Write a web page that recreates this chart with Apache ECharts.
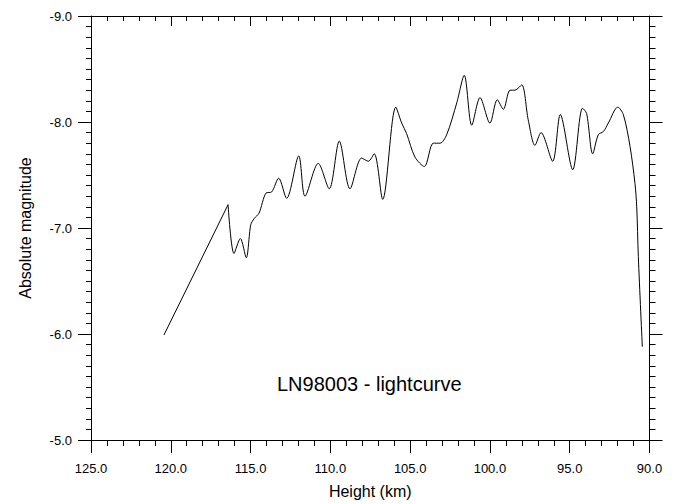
<!DOCTYPE html>
<html>
<head>
<meta charset="utf-8">
<script src="https://cdn.jsdelivr.net/npm/echarts@6/dist/echarts.min.js"></script>
<style>
html,body{margin:0;padding:0;background:#fff;}
#main{width:673px;height:504px;}
</style>
</head>
<body>
<div id="main"></div>
<script>
// Straight initial segment
var heightsA = [120.43, 116.41];
var magsA = [-5.99, -7.22];
// Smooth light curve
var heights = [116.41, 116.04, 115.64, 115.27, 114.99, 114.77, 114.47, 114.03, 113.68, 113.24,
  112.74, 111.98, 111.59, 110.76, 110.07, 109.44, 108.77, 108.04, 107.62, 107.25,
  106.72, 105.90, 105.53, 105.22, 104.70, 104.11, 103.55, 103.13, 102.71, 102.08,
  101.61, 101.14, 100.62, 100.00, 99.54, 99.16, 98.74, 98.43, 98.01, 97.60,
  97.18, 96.80, 96.07, 95.59, 94.81, 94.20, 93.94, 93.56, 93.21, 92.89,
  92.58, 91.99, 91.64, 91.22, 90.91, 90.80, 90.70, 90.45];
var mags = [-7.22, -6.76, -6.90, -6.72, -7.03, -7.09, -7.14, -7.33, -7.34, -7.47,
  -7.28, -7.68, -7.30, -7.61, -7.37, -7.82, -7.37, -7.66, -7.63, -7.70,
  -7.27, -8.14, -7.99, -7.89, -7.67, -7.58, -7.80, -7.80, -7.88, -8.18,
  -8.44, -7.97, -8.23, -7.99, -8.21, -8.12, -8.30, -8.30, -8.35, -8.02,
  -7.78, -7.90, -7.63, -8.07, -7.55, -8.13, -8.08, -7.70, -7.88, -7.91,
  -7.99, -8.14, -8.07, -7.77, -7.42, -7.20, -6.73, -5.88];
var xMin = 90, xMax = 125, xStep = 5;
var yMin = -9, yMax = -5, yStep = 1;
var titleText = 'LN98003 - lightcurve';
var xName = 'Height (km)';
var yName = 'Absolute magnitude';

function zip(a, b) { var r = []; for (var i = 0; i < a.length; i++) r.push([a[i], b[i]]); return r; }

var FONT = 'Arial, "Liberation Sans", sans-serif';
var lineStyle = { color: '#000', width: 1 };
var chart = echarts.init(document.getElementById('main'), null, { renderer: 'svg' });
chart.setOption({
  backgroundColor: '#fff',
  animation: false,
  grid: { left: 91, right: 23.5, top: 16, bottom: 64, containLabel: false },
  graphic: [{
    type: 'text', left: 277, top: 374,
    style: { text: titleText, font: '20px ' + FONT, fill: '#000' }
  }],
  xAxis: [{
    type: 'value', position: 'bottom', min: xMin, max: xMax, interval: xStep, inverse: true,
    name: xName, nameLocation: 'middle', nameGap: 43,
    nameTextStyle: { fontFamily: FONT, fontSize: 16, color: '#000' },
    axisLine: { show: true, onZero: false, lineStyle: lineStyle },
    axisTick: { show: true, inside: false, length: 13, lineStyle: lineStyle },
    minorTick: { show: true, splitNumber: 5, length: 6, lineStyle: lineStyle },
    axisLabel: { formatter: function (v) { return v.toFixed(1); }, fontFamily: FONT, fontSize: 13, color: '#000', margin: 22 },
    splitLine: { show: false }
  }, {
    type: 'value', position: 'top', min: xMin, max: xMax, interval: xStep, inverse: true,
    axisLine: { show: true, onZero: false, lineStyle: lineStyle },
    axisTick: { show: true, inside: true, length: 10, lineStyle: lineStyle },
    minorTick: { show: true, splitNumber: 5, length: 5, lineStyle: lineStyle },
    axisLabel: { show: false },
    splitLine: { show: false }
  }],
  yAxis: [{
    type: 'value', position: 'left', min: yMin, max: yMax, interval: yStep, inverse: true,
    name: yName, nameLocation: 'middle', nameGap: 58, nameRotate: 90,
    nameTextStyle: { fontFamily: FONT, fontSize: 16, color: '#000' },
    axisLine: { show: true, onZero: false, lineStyle: lineStyle },
    axisTick: { show: true, inside: false, length: 13, lineStyle: lineStyle },
    minorTick: { show: true, splitNumber: 10, length: 5, lineStyle: lineStyle },
    axisLabel: { formatter: function (v) { return v.toFixed(1); }, fontFamily: FONT, fontSize: 13, color: '#000', margin: 19 },
    splitLine: { show: false }
  }, {
    type: 'value', position: 'right', min: yMin, max: yMax, interval: yStep, inverse: true,
    axisLine: { show: true, onZero: false, lineStyle: lineStyle },
    axisTick: { show: true, inside: false, length: 13, lineStyle: lineStyle },
    minorTick: { show: true, splitNumber: 10, length: 6, lineStyle: lineStyle },
    axisLabel: { show: false },
    splitLine: { show: false }
  }],
  series: [{
    type: 'line', xAxisIndex: 0, yAxisIndex: 0, data: zip(heightsA, magsA),
    showSymbol: false, smooth: false, lineStyle: lineStyle
  }, {
    type: 'line', xAxisIndex: 0, yAxisIndex: 0, data: zip(heights, mags),
    showSymbol: false, smooth: 0.3, lineStyle: lineStyle
  }]
});
</script>
</body>
</html>
